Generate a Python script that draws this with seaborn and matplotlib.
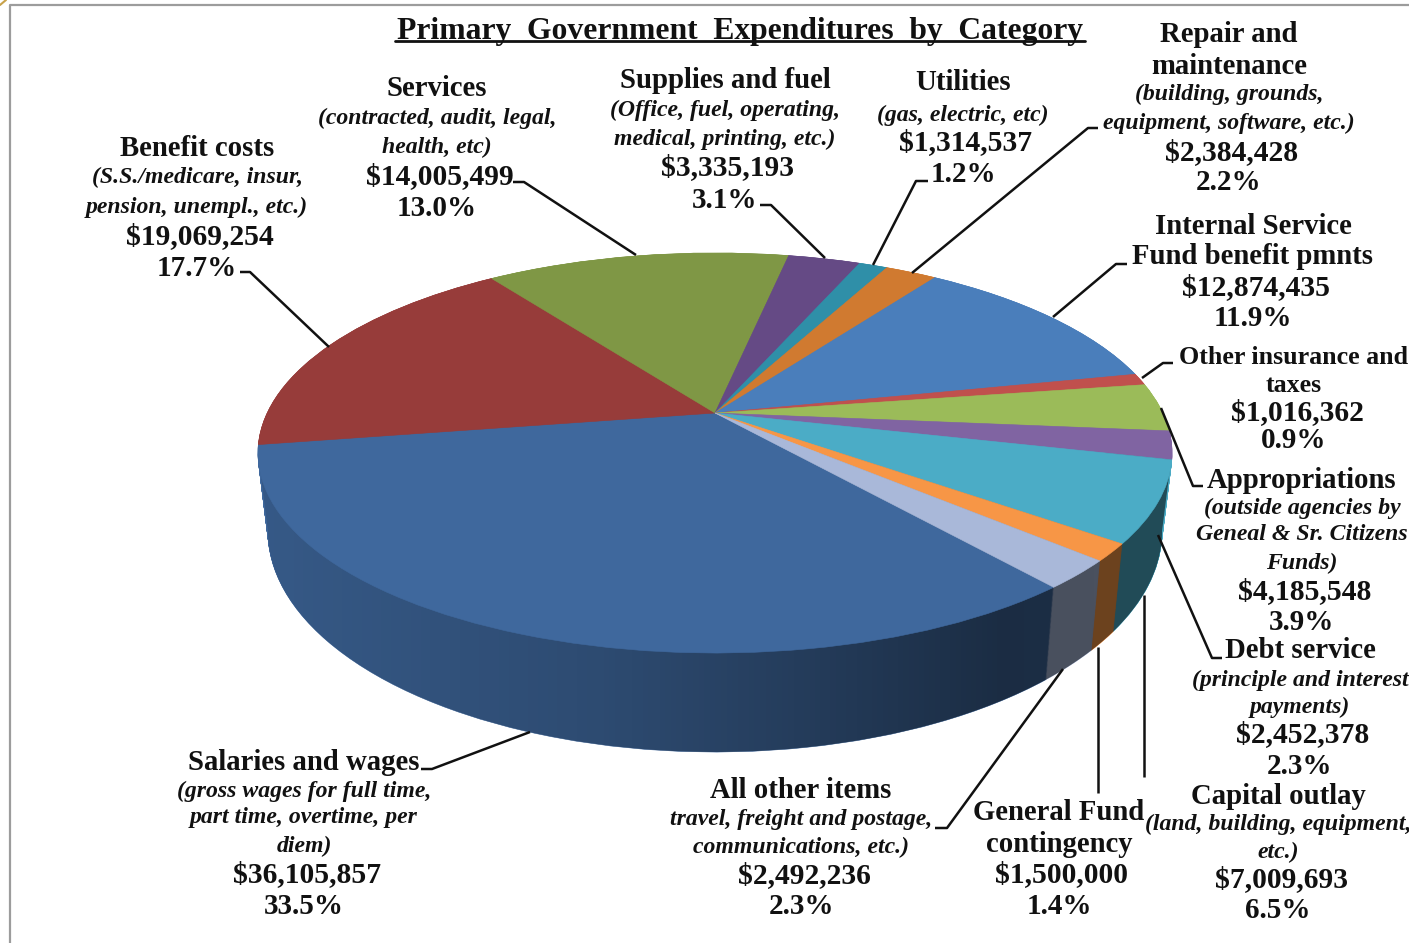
#coding=utf-8

import numpy as np
import matplotlib
matplotlib.use('Agg')
import matplotlib.pyplot as plt
import matplotlib.transforms as mtransforms
from matplotlib.patches import Polygon
import seaborn as sns

# chart values, in pie order (clockwise)
categories = ['Salaries and wages', 'Benefit costs', 'Services', 'Supplies and fuel', 'Utilities',
              'Repair and\nmaintenance', 'Internal Service\nFund benefit pmnts', 'Other insurance and\ntaxes',
              'Appropriations', 'Debt service', 'Capital outlay', 'General Fund\ncontingency', 'All other items']
notes = ['(gross wages for full time,\npart time, overtime, per\ndiem)',
         '(S.S./medicare, insur,\npension, unempl., etc.)',
         '(contracted, audit, legal,\nhealth, etc)',
         '(Office, fuel, operating,\nmedical, printing, etc.)',
         '(gas, electric, etc)',
         '(building, grounds,\nequipment, software, etc.)',
         '',
         '',
         '(outside agencies by\nGeneal & Sr. Citizens\nFunds)',
         '(principle and interest\npayments)',
         '(land, building, equipment,\netc.)',
         '',
         'travel, freight and postage,\ncommunications, etc.)']
amounts = [36105857, 19069254, 14005499, 3335193, 1314537, 2384428, 12874435,
           1016362, 4185548, 2452378, 7009693, 1500000, 2492236]
percents = ['33.5%', '17.7%', '13.0%', '3.1%', '1.2%', '2.2%', '11.9%',
            '0.9%', '3.9%', '2.3%', '6.5%', '1.4%', '2.3%']
slice_colors = ['#3F689D', '#973C3A', '#7F9745', '#654A85', '#2F8FA8', '#D07A30', '#4A7EBB',
                '#C0504D', '#9BBB59', '#8064A2', '#4BACC6', '#F79646', '#A9B8D9']
title = 'Primary  Government  Expenditures  by  Category'

# layout in picture pixels
W, H = 1409, 943
START_ANGLE = -50.2
CX = 715
TILT = 0.2
TOP_FACE = (447.8, 192, 413)     # x scale, y scale, y of the pie centre
BOTTOM_FACE = (438, 212, 487)
NAME_SIZE = [20.7, 20.7, 20.7, 20.7, 20.7, 20.7, 20.7, 18.7, 20.7, 20.7, 20.7, 20.7, 20.7]
label_x = [304, 197, 437, 725, 963, 1229, 1253, 1294, 1302, 1300, 1278, 1059, 801]
label_y = [[762, 791, 817, 846, 875, 906],
           [149, 177, 207, 237, 268],
           [89, 118, 147, 177, 208],
           [81, 110, 139, 168, 200],
           [82, 115, 143, 175],
           [35, 66, 94, 123, 153, 183],
           [226, 257, 288, 319],
           [357, 385, 413, 440],
           [480, 508, 534, 563, 592, 622],
           [651, 680, 707, 735, 767],
           [796, 824, 852, 880, 911],
           [813, 844, 875, 906],
           [791, 820, 847, 876, 907]]
leaders = [[(421, 769), (432, 769), (530, 732)],
           [(240, 272), (250, 272), (329, 347)],
           [(513, 182), (524, 182), (636, 255)],
           [(760, 205), (771, 205), (825, 258)],
           [(928, 181), (916, 181), (873, 265)],
           [(1098, 128), (1088, 128), (912, 273)],
           [(1127, 264), (1116, 264), (1053, 317)],
           [(1173, 363), (1163, 363), (1142, 378)],
           [(1203, 486), (1193, 486), (1161, 408)],
           [(1222, 658), (1212, 658), (1158, 535)],
           [(1144, 777), (1144, 595)],
           [(1098, 793), (1098, 647)],
           [(935, 828), (947, 828), (1063, 669)]]


class TiltTransform(mtransforms.Transform):
    # flat unit pie -> tilted disc with perspective, so the centre sits above the ellipse middle
    input_dims = 2
    output_dims = 2

    def __init__(self, face):
        super().__init__()
        self.face = face

    def transform_non_affine(self, values):
        values = np.asarray(values)
        s, a, y0 = self.face
        w = 1 + TILT * values[:, 1]
        return np.column_stack([CX + s * values[:, 0] / w, y0 - a * values[:, 1] / w])


def draw_pie(ax, face, zorder):
    wedges, _ = ax.pie(amounts, colors=palette, startangle=START_ANGLE, counterclock=False, radius=1)
    for wedge in wedges:
        wedge.set_transform(TiltTransform(face) + ax.transData)
        wedge.set_edgecolor(wedge.get_facecolor())
        wedge.set_linewidth(0.4)
        wedge.set_zorder(zorder)


def wall_outline(faces):
    # silhouette of the side wall, used to clip the shading
    t = np.linspace(0, 2 * np.pi, 1440)
    circle = np.column_stack([np.cos(t), np.sin(t)])
    lefts, rights = [], []
    for face in faces:
        pts = TiltTransform(face).transform_non_affine(circle)
        lefts.append(pts[pts[:, 0].argmin()])
        rights.append(pts[pts[:, 0].argmax()])
    last = TiltTransform(faces[-1]).transform_non_affine(circle)
    i0, i1 = last[:, 0].argmin(), last[:, 0].argmax()
    arc = last[i0:i1 + 1] if i0 < i1 else np.vstack([last[i0:], last[:i1 + 1]])
    return np.vstack([lefts, arc, rights[::-1]])


sns.set_theme(style='white')
palette = sns.color_palette(slice_colors)
plt.rcParams['font.family'] = ['Liberation Serif', 'DejaVu Serif']

fig = plt.figure(figsize=(W / 100, H / 100), dpi=100)
ax = fig.add_axes([0, 0, 1, 1])

# side wall: stacked copies of the pie between the lower and the upper face
layers = [tuple(np.array(BOTTOM_FACE) + (np.array(TOP_FACE) - np.array(BOTTOM_FACE)) * k)
          for k in np.linspace(0, 1, 110)]
for face in layers:
    draw_pie(ax, face, 1)

# wall gets darker from left to right
shade = np.zeros((2, 300, 4))
shade[:, :, 3] = np.interp(np.linspace(250, 1180, 300), [250, 600, 800, 1000, 1180], [0.14, 0.28, 0.42, 0.57, 0.56])
im = ax.imshow(shade, extent=(250, 1180, 780, 430), aspect='auto', zorder=2, interpolation='bilinear')
outline = Polygon(wall_outline(layers[::-1]), closed=True, transform=ax.transData, facecolor='none', edgecolor='none')
ax.add_patch(outline)
im.set_clip_path(outline)

draw_pie(ax, TOP_FACE, 3)

ax.set_aspect('auto')
ax.set_xlim(0, W)
ax.set_ylim(H, 0)
ax.set_axis_off()

# slide frame
ax.plot([10, 10, W], [H, 5, 5], color='#9C9C9C', lw=1.6, zorder=1)
ax.plot([0, 6], [5, 0], color='#C8A24A', lw=1.5, zorder=1)

# title
ax.text(740, 32, title, ha='center', va='center', fontsize=22.8, fontweight='bold', color='#111111', zorder=5)
ax.plot([395, 1085], [41, 41], color='#111111', lw=2, zorder=5)

for points in leaders:
    xs, ys = zip(*points)
    ax.plot(xs, ys, color='#111111', lw=1.8, zorder=4, solid_capstyle='butt')

for i, name in enumerate(categories):
    lines = [(s, 'normal', NAME_SIZE[i], 0) for s in name.split('\n')]
    if notes[i]:
        lines += [(s, 'italic', 17.1, 0) for s in notes[i].split('\n')]
    lines.append(('${:,}'.format(amounts[i]), 'normal', 21.3, 3))
    lines.append((percents[i], 'normal', 21, 0))
    for (s, style, size, dx), y in zip(lines, label_y[i]):
        ax.text(label_x[i] + dx, y, s, ha='center', va='center', fontsize=size, fontweight='bold',
                fontstyle=style, color='#111111', zorder=5)

fig.savefig('out.png', dpi=100)
